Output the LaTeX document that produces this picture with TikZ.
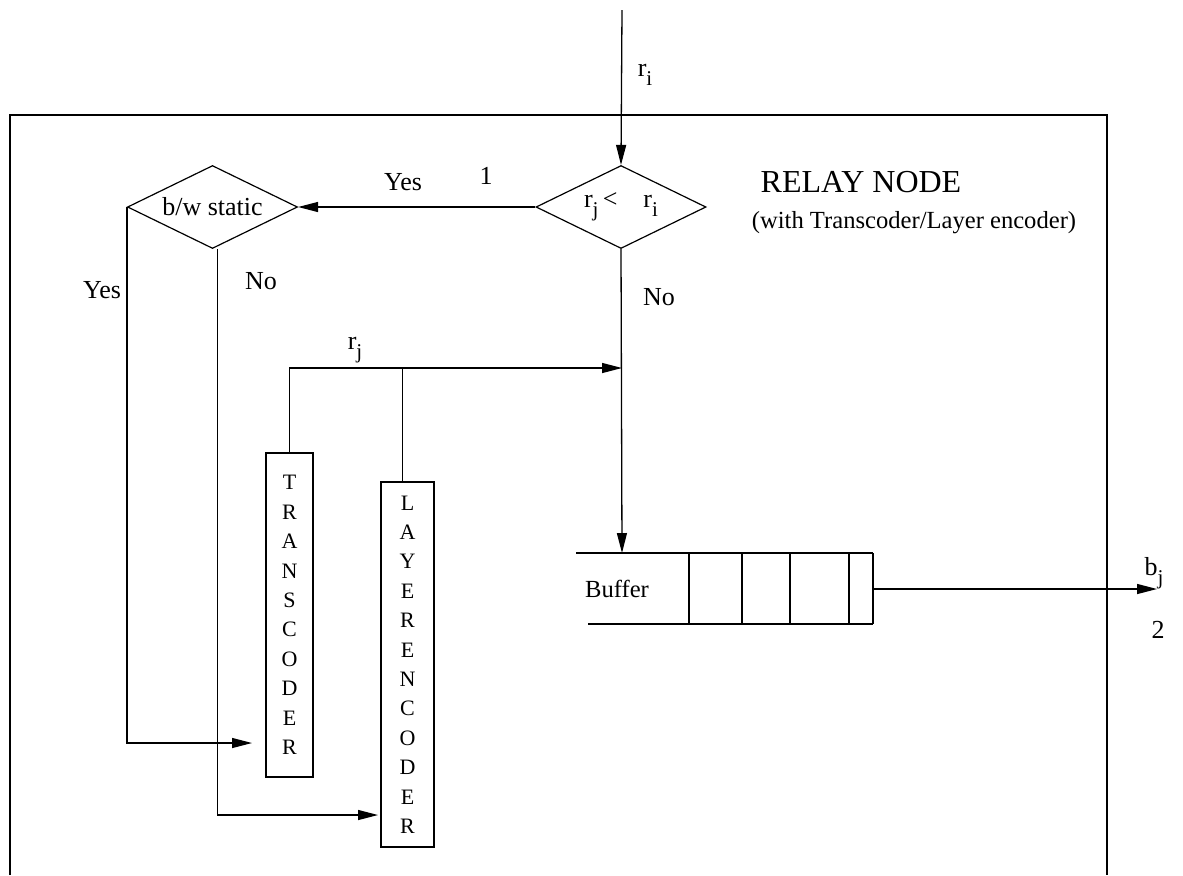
\documentclass[tikz,border=0pt]{standalone}
\usepackage{fontspec}
\setmainfont{Liberation Serif}
\usetikzlibrary{shapes.geometric,arrows.meta}
\newcommand{\rsub}[2]{#1\raisebox{-4.5pt}{\fontsize{10.5}{10}\selectfont #2}}

\begin{document}
\begin{tikzpicture}[x=0.5pt,y=-0.5pt,
    txt/.style={font=\fontsize{13}{15}\selectfont},
    flow/.style={line width=0.65pt},
    arr/.style={flow,-{Triangle[length=10pt,width=5pt]}},
    decision/.style={draw,diamond,aspect=2,inner sep=0pt,minimum width=85pt,minimum height=41.5pt,line width=0.6pt,txt},
    coder/.style={draw,line width=0.7pt,inner sep=0pt,align=center,font=\fontsize{11}{14.7}\selectfont}]
  \useasboundingbox (0,0) rectangle (1183,875);
  % frame of the relay node, open at the bottom
  \draw[line width=1.1pt] (10,875) -- (10,115) -- (1107,115) -- (1107,875);
  \node[font=\fontsize{16}{18}\selectfont] (title) at (861,182) {RELAY NODE};
  \node[font=\fontsize{12.3}{14}\selectfont] (subtitle) at (914,223) {(with Transcoder/Layer encoder)};

  \coordinate (in) at (622,10);
  \node[decision] (cmp) at (621,207) {\rsub{r}{j}\,<\quad\rsub{r}{i}};
  \node[decision] (bw) at (212.5,207) {b/w static};
  \node[coder,minimum width=23.5pt,minimum height=162pt] (trans) at (289.5,615) {T\\R\\A\\N\\S\\C\\O\\D\\E\\R};
  \node[coder,minimum width=26.5pt,minimum height=182.5pt] (layer) at (407.5,664.5) {L\\A\\Y\\E\\R\\E\\N\\C\\O\\D\\E\\R};
  \coordinate (tin) at (252,743);
  \coordinate (lin) at (378,815);
  \coordinate (merge) at (622,368);
  \coordinate (bufin) at (622,553);
  \coordinate (bufout) at (873,589);
  \coordinate (out) at (1157,589);

  % buffer
  \node[font=\fontsize{12.3}{14}\selectfont] (buf) at (617,589) {Buffer};
  \draw[flow] (576,553) -- (873,553);
  \draw[flow] (588,624) -- (873,624);
  \foreach \x in {689,742,790,849,873}
    \draw[flow] (\x,553) -- (\x,624);

  % connectors
  \draw[arr] (in) -- (cmp.north);
  \draw[arr] (cmp.west) -- (bw.east);
  \draw[arr] (bw.west) |- (tin);
  \draw[arr] ([xshift=2.5pt]bw.south) |- (lin);
  \draw[arr] (trans.north) |- (merge);
  \draw[flow] ([xshift=-2.5pt]layer.north) -- ([xshift=-2.5pt]layer.north |- merge);
  \draw[arr] (cmp.south) -- (bufin);
  \draw[arr] (bufout) -- (out);

  % labels
  \node[txt] (ri) at (645,75) {\rsub{r}{i}};
  \node[txt] (yes1) at (403,182) {Yes};
  \node[txt] (one) at (486,176) {1};
  \node[txt] (no1) at (659,297) {No};
  \node[txt] (no2) at (261,281) {No};
  \node[txt] (yes2) at (102,290) {Yes};
  \node[txt] (rj) at (355,350) {\rsub{r}{j}};
  \node[txt] (bj) at (1154,573) {\rsub{b}{j}};
  \node[txt] (two) at (1158,630) {2};
\end{tikzpicture}
\end{document}
